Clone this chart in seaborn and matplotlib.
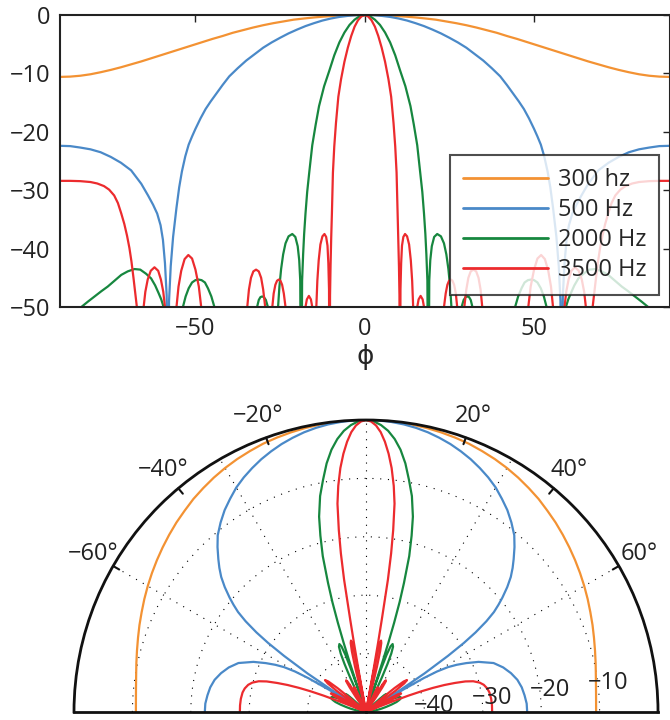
import numpy as np
import pandas as pd
import matplotlib
matplotlib.use("Agg")
import matplotlib.pyplot as plt
import seaborn as sns

sns.set_style("white")
plt.rcParams['font.family'] = ['Open Sans', 'DejaVu Sans']
plt.rcParams['font.size'] = 17
plt.rcParams['axes.unicode_minus'] = True

freq_labels = ['300 hz', '500 Hz', '2000 Hz', '3500 Hz']
line_colors = ['#F39233', '#4A89C8', '#17873F', '#EC2B2E']

# left half of each beam pattern (phi <= 0); the pattern is symmetric
# values at -75 dB only mark the nulls, they are below the plotted range
phi_300 = [-90, -87, -84, -81, -78, -75, -72, -69, -66, -63, -60, -57, -54,
           -51, -48, -45, -42, -39, -36, -33, -30, -27, -24, -21, -18, -15,
           -12, -9, -6, -3, 0]
db_300 = [-10.6, -10.55, -10.4, -10.15, -9.8, -9.4, -8.95, -8.45, -7.95, -7.4,
          -6.85, -6.3, -5.75, -5.2, -4.65, -4.1, -3.6, -3.05, -2.6, -2.15,
          -1.75, -1.4, -1.1, -0.8, -0.6, -0.42, -0.27, -0.15, -0.07, -0.02, 0]

phi_500 = [-90, -87, -84, -81, -78, -75, -72, -69, -66, -64, -62.5, -61.3,
           -60.3, -59.6, -59.0, -58.5, -58.1, -57.8, -57.3, -56.6, -55.6,
           -54.8, -54, -53, -52, -51, -50, -48.5, -47, -45.5, -44, -42, -40,
           -37.5, -35, -32.5, -30, -27.5, -25, -22.5, -20, -17.5, -15, -12.5,
           -10, -7.5, -5, -2.5, 0]
db_500 = [-22.4, -22.45, -22.7, -23.0, -23.5, -24.3, -25.3, -26.6, -28.9, -30.9,
          -32.5, -34.0, -36.0, -38.5, -42.5, -48, -75, -49, -43, -38, -33,
          -29.5, -26.8, -24.2, -22.2, -20.8, -19.5, -17.7, -16.1, -14.8, -13.6,
          -12.0, -10.5, -9.1, -7.8, -6.7, -5.6, -4.7, -3.9, -3.15, -2.5, -1.9,
          -1.4, -0.95, -0.6, -0.33, -0.15, -0.04, 0]

phi_2000 = [-90, -87, -85.5, -83.7, -81.8, -79.8, -77.8, -75.9, -73.9, -71.9,
            -70, -68, -66.3, -64.6, -63.1, -61.9, -60.9, -60.1, -59.4, -59.0,
            -58.3,
            -56, -54.3, -53.7, -52.9, -52.0, -51.0, -50.0, -49.1, -48.2, -47.2,
            -46.3, -45.3, -44.4, -43.9, -42.5,
            -33, -32.1, -31.8, -31.3, -30.8, -30.3, -29.8, -29.2, -28.6, -28.3,
            -27.3,
            -26.4, -25.9, -25.6, -25.2, -24.7, -24.1, -23.4, -22.5, -21.4,
            -20.5, -19.8, -19.35, -19.05, -18.8,
            -18.5, -18.2, -17.9, -17.5, -17, -16.4, -15.5, -14.5, -13.5, -12,
            -10.5, -9, -7.5, -6, -4.5, -3, -1.5, 0]
db_2000 = [-62, -55, -52.3, -50, -49.1, -48.2, -47.3, -46.5, -45.5, -44.5,
           -43.9, -43.5, -43.6, -44.3, -45.1, -46.3, -47.6, -48.7, -50, -53,
           -75,
           -75, -53, -50, -48.2, -46.8, -45.8, -45.4, -45.3, -45.4, -45.8,
           -46.8, -48.2, -50, -53, -75,
           -75, -52, -50, -48.8, -48.3, -48.2, -48.3, -48.8, -50, -52,
           -75,
           -75, -53, -50, -46.5, -43.5, -41.0, -39.1, -37.9, -37.5,
           -38.0, -39.6, -42, -45.5, -75,
           -45.5, -41, -37.5, -34.0, -30.3, -27, -22.3, -18.8, -15.6, -12.2,
           -9.6, -6.9, -4.7, -3.0, -1.7, -0.8, -0.2, 0]

phi_3500 = [-90, -87, -84, -81, -79, -77, -75.5, -74, -72.9, -71.9, -71, -70.2,
            -69.5, -68.9, -68.3, -67.8, -67.3, -66.9, -66.4,
            -65.6, -65.3, -64.8, -64.1, -63.2, -62.1, -61.0, -60.2, -59.5,
            -59.0, -58.6, -57.2,
            -56.0, -55.6, -55.0, -54.2, -53.2, -52.1, -51.0, -50.0, -49.0,
            -48.3, -47.8, -47.0,
            -35.8, -35.0, -34.7, -34.2, -33.6, -32.9, -32.1, -31.3, -30.6,
            -30.0, -29.4, -29.0, -28.3,
            -27.6, -27.3, -26.9, -26.4, -25.9, -25.4, -24.9, -24.4, -23.9,
            -23.4, -23.0, -22.4,
            -18.2, -17.7, -17.5, -17.1, -16.5, -15.9, -15.5, -15.3, -14.9,
            -14.5, -14.3, -14.0, -13.6, -13.1, -12.5, -11.9, -11.4, -11.0,
            -10.75, -10.55, -10.4,
            -10.25, -10.1, -9.9, -9.7, -9.4, -9.0, -8.5, -7.8, -7, -6, -5, -4,
            -3, -2, -1, 0]
db_3500 = [-28.4, -28.4, -28.45, -28.6, -28.85, -29.3, -29.9, -30.9, -32.2,
           -34.0, -35.8, -37.8, -39.9, -42.2, -45.0, -47.5, -50, -54, -75,
           -53, -50, -47.4, -45.3, -43.8, -43.2, -43.8, -45.3, -47.4,
           -50, -55, -75,
           -54, -50, -46.5, -43.8, -41.8, -41.1, -41.7, -43.6, -46.5,
           -50, -55, -75,
           -75, -53, -50, -47.0, -45.0, -43.9, -43.6, -43.9, -45.0,
           -47.0, -50, -54, -75,
           -53, -50, -47.7, -46.2, -45.5, -45.3, -45.5, -46.2, -47.7,
           -50, -54, -75,
           -75, -53, -50, -48.7, -48.1, -48.7, -50, -53, -75,
           -54, -50, -45.5, -42.0, -39.3, -37.9, -37.5, -38.0, -39.5,
           -42.5, -47, -75,
           -48, -43, -38, -34, -27, -22.5, -18.5, -14.0, -11.0, -8.0, -5.6,
           -3.6, -2.0, -0.9, -0.25, 0]

halves = [(phi_300, db_300), (phi_500, db_500),
          (phi_2000, db_2000), (phi_3500, db_3500)]

frames = []
for label, (phi, db) in zip(freq_labels, halves):
    phi = np.asarray(phi, float)
    db = np.asarray(db, float)
    full_phi = np.concatenate([phi, -phi[-2::-1]])
    full_db = np.concatenate([db, db[-2::-1]])
    frames.append(pd.DataFrame({'freq': label, 'phi': full_phi, 'db': full_db}))
df = pd.concat(frames, ignore_index=True)
df['theta'] = np.deg2rad(df.phi)
df['r'] = np.clip(df.db + 50, 0, None)

palette = dict(zip(freq_labels, line_colors))

fig = plt.figure(figsize=(6.7, 7.2), dpi=100)

# cartesian beam pattern
ax = fig.add_axes([60 / 670, 1 - 307 / 720, 609.5 / 670, 292 / 720])
sns.lineplot(data=df, x='phi', y='db', hue='freq', hue_order=freq_labels,
             palette=palette, estimator=None, sort=False, lw=1.6, ax=ax)
ax.set_xlim(-90, 90)
ax.set_ylim(-50, 0)
ax.set_xticks([-50, 0, 50])
ax.set_yticks([0, -10, -20, -30, -40, -50])
ax.set_xlabel('ϕ', family='DejaVu Sans', fontsize=19, labelpad=2)
ax.set_ylabel('')
ax.tick_params(direction='in', length=5, width=1, top=True, right=True,
               labelsize=17, pad=7, colors='#222222')
for s in ax.spines.values():
    s.set_color('#222222')
    s.set_linewidth(1.5)
handles, labels = ax.get_legend_handles_labels()
leg = ax.legend(handles, labels, loc='lower right', bbox_to_anchor=(0.983, 0.041),
                fontsize=17, frameon=True, fancybox=False, handlelength=3.6,
                handletextpad=0.4, labelspacing=0.25, borderpad=0.55,
                borderaxespad=0)
leg.get_frame().set_edgecolor('#222222')
leg.get_frame().set_linewidth(1.5)
for h in leg.get_lines():
    h.set_linewidth(2)

# polar view of the same patterns; the half disc sits in the middle half
# of a square polar axes, so the square is 584 px wide with the baseline at 8 px
pax = fig.add_axes([74 / 670, -138 / 720, 584 / 670, 584 / 720], projection='polar')
pax.set_theta_zero_location('N')
pax.set_theta_direction(-1)
pax.set_thetamin(-90)
pax.set_thetamax(90)
sns.lineplot(data=df, x='theta', y='r', hue='freq', hue_order=freq_labels,
             palette=palette, estimator=None, sort=False, lw=1.6, legend=False,
             ax=pax)
pax.set_ylim(0, 50)
pax.set_xlabel('')
pax.set_ylabel('')
pax.set_xticks(np.deg2rad([-60, -30, 0, 30, 60]))
pax.set_xticklabels([])
pax.set_yticks([10, 20, 30, 40])
pax.set_yticklabels([])
pax.grid(True, color='k', linestyle=(0, (1, 6)), lw=0.8)
for name in ['polar', 'start', 'end']:
    pax.spines[name].set_color('#111111')
    pax.spines[name].set_linewidth(2)

for a in [-60, -40, -20, 20, 40, 60]:
    t = np.deg2rad(a)
    pax.plot([t, t], [48.8, 50], color='#111111', lw=1.5, clip_on=False)
    pax.text(t, 54.0, f'{a}°'.replace('-', '−'), ha='center', va='center',
             fontsize=17, color='#222222')
for v in [-10, -20, -30, -40]:
    pax.text(np.deg2rad(82.5), v + 48.3, f'{v}'.replace('-', '−'), ha='left',
             va='center', fontsize=17, color='#222222')

fig.savefig('out.png', dpi=100)
